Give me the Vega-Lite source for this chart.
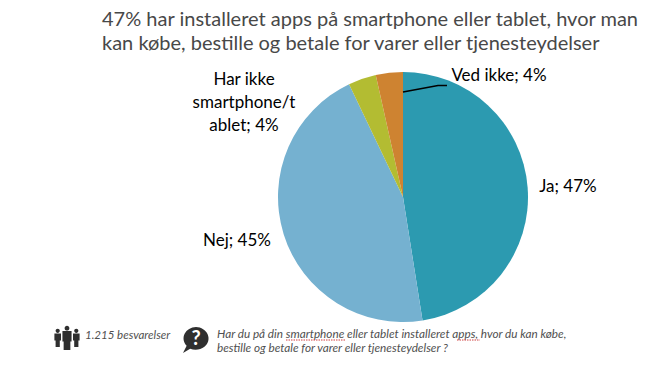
{"$schema":"https://vega.github.io/schema/vega-lite/v6.json","width":653,"height":373,"autosize":"none","padding":0,"background":"white","view":{"stroke":null},
"title":{"text":["47% har installeret apps på smartphone eller tablet, hvor man","kan købe, bestille og betale for varer eller tjenesteydelser"],"anchor":"start","frame":"group","dx":102,"dy":58,"font":"Lato","fontSize":20,"fontWeight":"normal","color":"#484848","lineHeight":24,"align":"left"},
"data":{"values":[{"svar":"Ja","andel":47.5,"rang":1,"etiket":"Ja; 47%"},{"svar":"Nej","andel":45.4,"rang":2,"etiket":"Nej; 45%"},{"svar":"Har ikke","andel":3.6,"rang":3,"etiket":"Har ikke\nsmartphone/t\nablet; 4%"},{"svar":"Ved ikke","andel":3.5,"rang":4,"etiket":"Ved ikke; 4%"}]},
"layer":[
{"mark":{"type":"arc","x":403,"y":197,"outerRadius":125},"encoding":{"theta":{"field":"andel","type":"quantitative","stack":true,"scale":{"domain":[0,100]}},"order":{"field":"rang","type":"ordinal"},"color":{"field":"svar","type":"nominal","legend":null,"scale":{"domain":["Ja","Nej","Har ikke","Ved ikke"],"range":["#2C9AB0","#75B1D0","#B3BC32","#CE8331"]}}}},
{"data":{"values":[{"ikon":"streg"}]},"mark":{"type":"point","x":0,"y":0,"filled":false,"opacity":1,"stroke":"black","strokeWidth":1.6,"size":4,"shape":"M403,92 L438,85.5 L447,85.5"},"encoding":{}},
{"transform":[{"filter":"datum.svar==='Ja'"}],"mark":{"type":"text","x":568,"y":187,"font":"Lato","fontSize":17,"color":"black","align":"center","baseline":"middle"},"encoding":{"text":{"field":"etiket"}}},
{"transform":[{"filter":"datum.svar==='Nej'"}],"mark":{"type":"text","x":237,"y":241,"font":"Lato","fontSize":17,"color":"black","align":"center","baseline":"middle"},"encoding":{"text":{"field":"etiket"}}},
{"transform":[{"filter":"datum.svar==='Ved ikke'"}],"mark":{"type":"text","x":499,"y":76,"font":"Lato","fontSize":17,"color":"black","align":"center","baseline":"middle"},"encoding":{"text":{"field":"etiket"}}},
{"transform":[{"filter":"datum.svar==='Har ikke'"}],"mark":{"type":"text","x":244,"y":80,"font":"Lato","fontSize":17,"color":"black","align":"center","baseline":"middle","lineBreak":"\n","lineHeight":23},"encoding":{"text":{"field":"etiket"}}},
{"data":{"values":[{"t":"1.215 besvarelser"}]},"mark":{"type":"text","x":85,"y":336,"font":"Lato","fontSize":11.5,"fontStyle":"italic","color":"#505050","align":"left","baseline":"middle"},"encoding":{"text":{"field":"t"}}},
{"data":{"values":[{"t":"Har du på din smartphone eller tablet installeret apps, hvor du kan købe,"}]},"mark":{"type":"text","x":217,"y":334,"font":"Lato","fontSize":11.75,"fontStyle":"italic","color":"#505050","align":"left","baseline":"middle"},"encoding":{"text":{"field":"t"}}},
{"data":{"values":[{"t":"bestille og betale for varer eller tjenesteydelser ?"}]},"mark":{"type":"text","x":217,"y":348,"font":"Lato","fontSize":11.75,"fontStyle":"italic","color":"#505050","align":"left","baseline":"middle"},"encoding":{"text":{"field":"t"}}},
{"data":{"values":[{"ikon":"stave1"}]},"mark":{"type":"point","x":0,"y":0,"filled":false,"opacity":1,"stroke":"#D04040","strokeWidth":1,"strokeDash":[1.5,1],"size":4,"shape":"M286,340 L346,340 M457,340 L480,340"},"encoding":{}},
{"data":{"values":[{"ikon":"personer"}]},"mark":{"type":"point","x":67,"y":338,"filled":true,"opacity":1,"color":"#2F2F2F","size":576,"shape":"M-0.95,-0.6 A0.17,0.17 0 1 1 -0.6,-0.6 A0.17,0.17 0 1 1 -0.95,-0.6 Z M-1.05,-0.38 L-0.5,-0.38 L-0.5,0.2 L-0.6,0.2 L-0.6,0.75 L-0.95,0.75 L-0.95,0.2 L-1.05,0.2 Z M0.6,-0.6 A0.17,0.17 0 1 1 0.95,-0.6 A0.17,0.17 0 1 1 0.6,-0.6 Z M0.5,-0.38 L1.05,-0.38 L1.05,0.2 L0.95,0.2 L0.95,0.75 L0.6,0.75 L0.6,0.2 L0.5,0.2 Z M-0.2,-0.82 A0.2,0.2 0 1 1 0.2,-0.82 A0.2,0.2 0 1 1 -0.2,-0.82 Z M-0.38,-0.58 L0.38,-0.58 L0.38,0.3 L0.28,0.3 L0.28,1 L-0.28,1 L-0.28,0.3 L-0.38,0.3 Z"},"encoding":{}},
{"data":{"values":[{"ikon":"boble"}]},"mark":{"type":"point","x":196,"y":340,"filled":true,"opacity":1,"color":"#2F2F2F","size":676,"shape":"M0,-1 A1,0.88 0 1 1 -0.45,0.68 L-1,1 L-0.72,0.45 A1,0.88 0 0 1 0,-1 Z"},"encoding":{}},
{"data":{"values":[{"t":"?"}]},"mark":{"type":"text","x":196,"y":339,"font":"Lato","fontSize":20,"fontWeight":"bold","color":"white","align":"center","baseline":"middle"},"encoding":{"text":{"field":"t"}}}
]}
